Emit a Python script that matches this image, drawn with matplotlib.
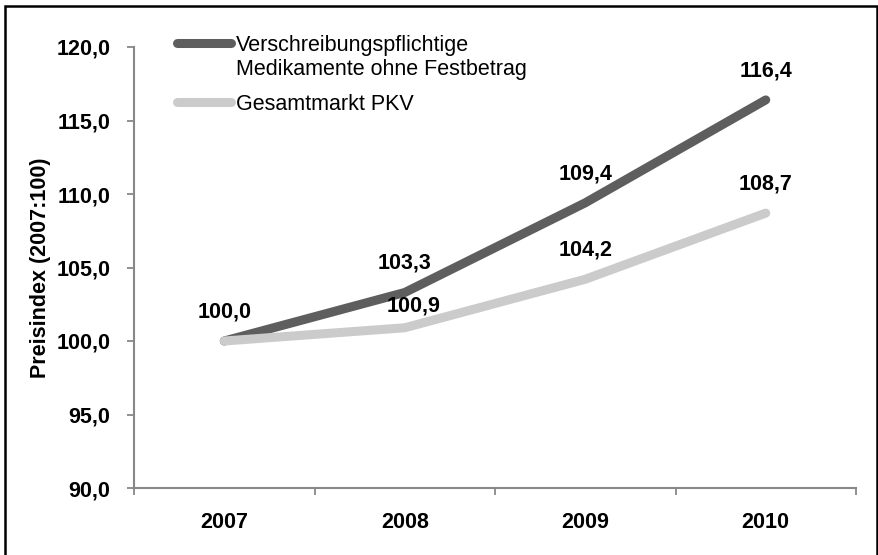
import matplotlib
matplotlib.use("Agg")
import matplotlib.pyplot as plt
from matplotlib.lines import Line2D
from matplotlib.patches import Rectangle

plt.rcParams['font.family'] = ['Liberation Sans', 'DejaVu Sans']

# Daten
years = ["2007", "2008", "2009", "2010"]
rx_ohne_festbetrag = [100.0, 103.3, 109.4, 116.4]
gesamtmarkt_pkv = [100.0, 100.9, 104.2, 108.7]
series_names = ["Verschreibungspflichtige\nMedikamente ohne Festbetrag", "Gesamtmarkt PKV"]
y_ticks = [90, 95, 100, 105, 110, 115, 120]

DARK = "#5e5e5e"
LIGHT = "#cbcbcb"
AXIS = "#888888"
FS = 15.5


def fmt(v):
    return f"{v:.1f}".replace(".", ",")


def main():
    fig = plt.figure(figsize=(8.79, 5.55), dpi=100)
    W, H = 879, 555
    ax = fig.add_axes([134 / W, 1 - 488 / H, (856 - 134) / W, (488 - 47) / H])

    x = list(range(len(years)))
    ax.plot(x, rx_ohne_festbetrag, color=DARK, lw=6.5, solid_capstyle="round",
            solid_joinstyle="round", zorder=3)
    ax.plot(x, gesamtmarkt_pkv, color=LIGHT, lw=6.5, solid_capstyle="round",
            solid_joinstyle="round", zorder=4)

    # Datenbeschriftungen
    for i, v in enumerate(rx_ohne_festbetrag):
        ax.annotate(fmt(v), (i, v), xytext=(0, 21), textcoords="offset points",
                    ha="center", va="center", fontsize=FS, fontweight="bold", zorder=5)
    for i, v in enumerate(gesamtmarkt_pkv):
        if i == 0:
            continue  # deckt sich mit 100,0 oben
        off = (6, 16) if i == 1 else (0, 21)
        ax.annotate(fmt(v), (i, v), xytext=off, textcoords="offset points",
                    ha="center", va="center", fontsize=FS, fontweight="bold", zorder=5)

    ax.set_xlim(-0.5, len(years) - 0.5)
    ax.set_ylim(90, 120)
    ax.set_yticks(y_ticks)
    ax.set_yticklabels([fmt(t) for t in y_ticks], fontsize=FS, fontweight="bold")
    ax.set_xticks(x)
    ax.set_xticklabels(years, fontsize=FS, fontweight="bold")
    ax.set_xticks([i - 0.5 for i in range(len(years) + 1)], minor=True)
    ax.tick_params(axis="x", which="major", length=0, pad=17)
    ax.tick_params(axis="x", which="minor", length=5, color=AXIS, width=1.3)
    ax.tick_params(axis="y", length=5, color=AXIS, width=1.3, pad=12)

    for s in ["top", "right"]:
        ax.spines[s].set_visible(False)
    for s in ["left", "bottom"]:
        ax.spines[s].set_color(AXIS)
        ax.spines[s].set_linewidth(1.5)

    ax.set_ylabel("Preisindex (2007:100)", fontsize=FS, fontweight="bold", labelpad=4)

    # Legende (von Hand, Linie auf Hoehe der ersten Zeile)
    for (yy, col, name) in [(43, DARK, series_names[0]), (102, LIGHT, series_names[1])]:
        fig.add_artist(Line2D([177 / W, 231 / W], [1 - yy / H, 1 - yy / H], color=col,
                              lw=6.5, solid_capstyle="round"))
        for k, line in enumerate(name.split("\n")):
            fig.text(236 / W, 1 - (yy + 24 * k) / H, line, fontsize=FS, va="center_baseline",
                     ha="left")

    # Rahmen
    fig.add_artist(Rectangle((5 / W, -0.05), (877 - 5) / W, 1.05 - 6 / H,
                             fill=False, edgecolor="black", lw=1.8,
                             transform=fig.transFigure))

    fig.savefig("out.png", dpi=100)


if __name__ == "__main__":
    main()
